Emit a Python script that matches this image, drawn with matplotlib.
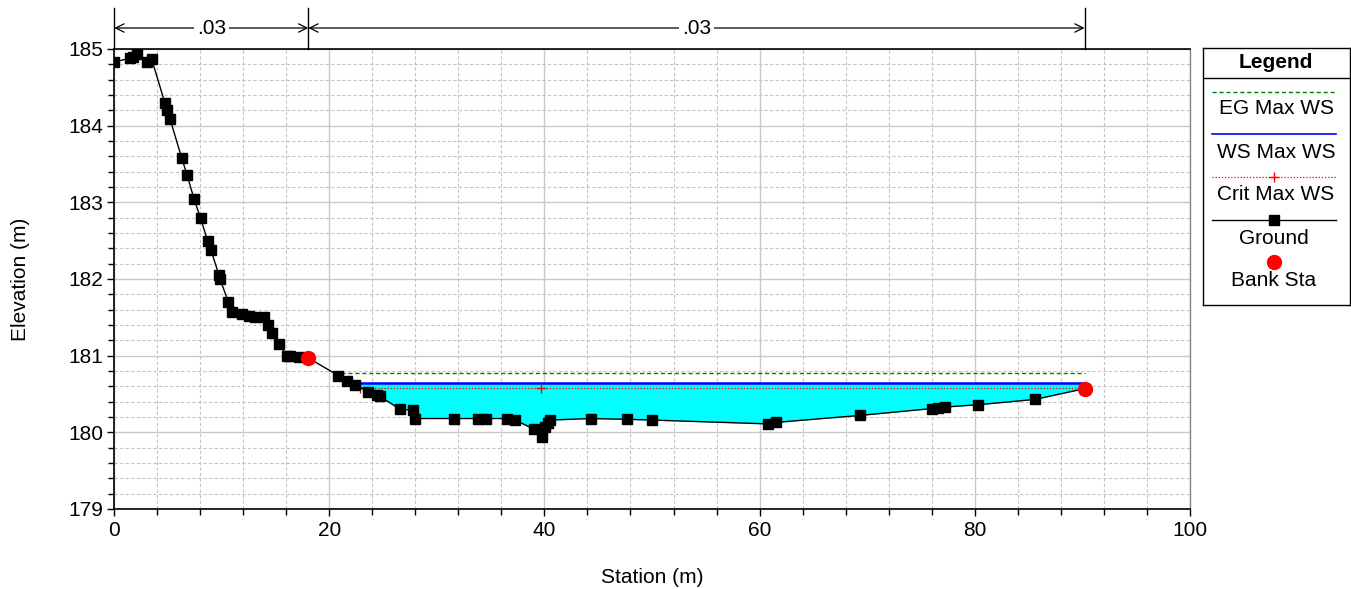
import numpy as np
import matplotlib
matplotlib.use("Agg")
import matplotlib.pyplot as plt
from matplotlib.ticker import MultipleLocator

plt.rcParams['font.family'] = ['Liberation Sans', 'DejaVu Sans']

# ---- data ----
station = [0.03, 1.49, 1.8, 2.1, 3.04, 3.5, 4.74, 4.96, 5.2, 6.29, 6.78, 7.43, 8.05,
           8.7, 9.0, 9.76, 9.85, 10.63, 10.94, 11.87, 12.5, 13.1, 13.97, 14.3, 14.65,
           15.33, 16.1, 16.36, 17.2, 18.06, 20.85, 21.63, 22.4, 23.63, 24.41, 24.72,
           26.58, 27.76, 27.97, 31.6, 33.86, 34.57, 36.55, 37.27, 39.06, 39.75, 40.06,
           40.3, 40.52, 44.3, 47.65, 49.99, 60.82, 61.57, 69.29, 76.01, 76.57, 77.22,
           80.32, 85.63, 90.2]
elevation = [184.83, 184.88, 184.9, 184.94, 184.83, 184.87, 184.29, 184.21, 184.09,
             183.58, 183.36, 183.05, 182.79, 182.5, 182.38, 182.05, 182.0, 181.70,
             181.57, 181.54, 181.52, 181.5, 181.5, 181.4, 181.3, 181.15, 181.0, 181.0,
             180.98, 180.97, 180.74, 180.67, 180.62, 180.53, 180.49, 180.47, 180.30,
             180.29, 180.18, 180.18, 180.18, 180.18, 180.18, 180.16, 180.04, 179.94,
             180.07, 180.12, 180.16, 180.18, 180.17, 180.16, 180.11, 180.13, 180.22,
             180.31, 180.32, 180.33, 180.36, 180.43, 180.57]
bank_sta = [18.06, 90.2]
eg_max_ws = 180.77
ws_max_ws = 180.65
crit_max_ws = 180.575
crit_marker_sta = [22.9, 39.7]
n_values = [".03", ".03"]
n_breaks = [0.03, 18.06, 90.2]
xticks = [0, 20, 40, 60, 80, 100]
yticks = [179, 180, 181, 182, 183, 184, 185]

gx = np.array(station)
gy = np.array(elevation)
bank_y = np.interp(bank_sta, gx, gy)

FS = 15


def left_cross(level):
    # station where the left overbank slope first drops below the level
    idx = np.where(gy <= level)[0][0]
    return np.interp(level, [gy[idx], gy[idx - 1]], [gx[idx], gx[idx - 1]])


fig = plt.figure(figsize=(13.51, 5.89), dpi=100)
ax = fig.add_axes([114 / 1351, 1 - 509 / 589, (1190 - 114) / 1351, 460 / 589])

ax.set_xlim(0, 100)
ax.set_ylim(179, 185)
ax.xaxis.set_minor_locator(MultipleLocator(4))
ax.yaxis.set_minor_locator(MultipleLocator(0.2))
ax.set_xticks(xticks)
ax.set_yticks(yticks)
ax.grid(which='major', color='#c8c8c8', linestyle='-', linewidth=1.0, zorder=0)
ax.grid(which='minor', color='#c4c4c4', linestyle=(0, (3, 2)), linewidth=0.8, zorder=0)
ax.set_axisbelow(True)
ax.tick_params(which='major', direction='out', length=5, width=1, labelsize=FS, colors='black')
ax.tick_params(which='minor', direction='out', length=4, width=1)
ax.tick_params(axis='x', pad=4)
ax.tick_params(axis='y', pad=3)
for s in ['left', 'bottom', 'top']:
    ax.spines[s].set_color('black')
    ax.spines[s].set_linewidth(1.2)
ax.spines['right'].set_color('#888888')
ax.spines['right'].set_linewidth(1.0)

ax.set_xlabel('Station (m)', fontsize=FS, labelpad=20)
ax.set_ylabel('Elevation (m)', fontsize=FS, labelpad=27)

# water fill
ax.fill_between(gx, gy, ws_max_ws, where=gy <= ws_max_ws, interpolate=True,
                color='#00ffff', linewidth=0, zorder=2)

# water surfaces
x_eg = left_cross(eg_max_ws)
x_ws = left_cross(ws_max_ws)
x_cr = left_cross(crit_max_ws)
ax.plot([x_eg, gx[-1]], [eg_max_ws, eg_max_ws], color='#008000', linestyle=(0, (3, 2)),
        linewidth=1.0, zorder=3)
ax.plot([x_ws, gx[-1]], [ws_max_ws, ws_max_ws], color='#0000ff', linewidth=1.8, zorder=3)
ax.plot([x_cr, gx[-1]], [crit_max_ws, crit_max_ws], color='#ff0000', linestyle=(0, (1, 1.5)),
        linewidth=0.9, zorder=3)
ax.plot(crit_marker_sta, [crit_max_ws] * len(crit_marker_sta), linestyle='none', marker='+',
        color='#ff0000', markersize=7, markeredgewidth=1.0, zorder=3)

# ground
ax.plot(gx, gy, color='black', linewidth=1.0, marker='s', markersize=6.5,
        markerfacecolor='black', markeredgecolor='black', zorder=4)
ax.plot(bank_sta, bank_y, linestyle='none', marker='o', markersize=10,
        color='#ff0000', zorder=5)

# Manning's n annotation above plot
top_y = 1 + 41 / 460
arr_y = 1 + 21 / 460
trans = ax.get_xaxis_transform()
for b in n_breaks:
    ax.plot([b, b], [1.0, top_y], transform=trans, color='black', linewidth=1.0, clip_on=False)
for i, lab in enumerate(n_values):
    a, b = n_breaks[i], n_breaks[i + 1]
    ax.annotate('', xy=(a, arr_y), xytext=(b, arr_y), xycoords=trans, textcoords=trans,
                arrowprops=dict(arrowstyle='<->,head_length=0.6,head_width=0.3',
                                color='black', linewidth=0.9, shrinkA=0, shrinkB=0),
                annotation_clip=False)
    ax.text((a + b) / 2, arr_y, lab, transform=trans, ha='center', va='center', fontsize=FS,
            bbox=dict(facecolor='white', edgecolor='none', pad=2), clip_on=False)

# legend box
lg = fig.add_axes([1203 / 1351, 1 - 305 / 589, 147 / 1351, 257 / 589])
lg.set_xlim(1203, 1350)
lg.set_ylim(305, 48)
lg.set_xticks([])
lg.set_yticks([])
for s in lg.spines.values():
    s.set_linewidth(1.0)
    s.set_color('black')
lg.text(1276, 62, 'Legend', ha='center', va='center', fontsize=FS, fontweight='bold')
lg.plot([1203, 1350], [78, 78], color='black', linewidth=1.0)
x0, x1, xm = 1212, 1336, 1274
lg.plot([x0, x1], [92, 92], color='#008000', linestyle=(0, (3, 2)), linewidth=1.0)
lg.text(xm + 2, 108, 'EG Max WS', ha='center', va='center', fontsize=FS)
lg.plot([x0, x1], [134, 134], color='#0000ff', linewidth=1.2)
lg.text(xm + 2, 152, 'WS Max WS', ha='center', va='center', fontsize=FS)
lg.plot([x0, x1], [177, 177], color='#ff0000', linestyle=(0, (1, 1.5)), linewidth=0.9)
lg.plot([xm], [177], marker='+', color='#ff0000', markersize=7, markeredgewidth=1.0)
lg.text(xm + 2, 195, 'Crit Max WS', ha='center', va='center', fontsize=FS)
lg.plot([x0, x1], [220, 220], color='black', linewidth=1.0)
lg.plot([xm], [220], marker='s', color='black', markersize=6.5)
lg.text(xm, 239, 'Ground', ha='center', va='center', fontsize=FS)
lg.plot([xm], [262], marker='o', color='#ff0000', markersize=10)
lg.text(xm, 281, 'Bank Sta', ha='center', va='center', fontsize=FS)

fig.savefig('out.png', dpi=100)
